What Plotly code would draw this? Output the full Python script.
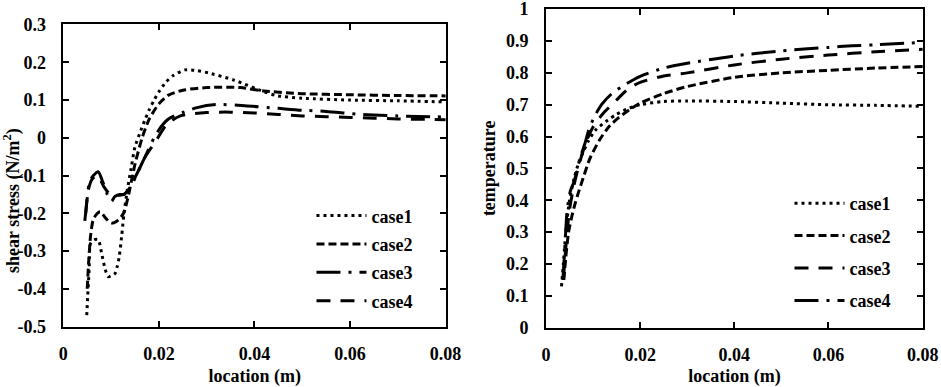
import plotly.graph_objects as go

# ---------------- data: left panel (shear stress) ----------------
series_names = ["case1", "case2", "case3", "case4"]

ss_x1 = [0.0049, 0.0051, 0.0054, 0.0057, 0.0065, 0.0073, 0.008, 0.0087, 0.0094, 0.0102, 0.0108, 0.0113,
         0.0117, 0.0122, 0.0127, 0.0134, 0.0142, 0.015, 0.016, 0.017, 0.018, 0.019, 0.02, 0.0215, 0.023,
         0.0255, 0.028, 0.031, 0.0357, 0.042, 0.0445, 0.05, 0.06, 0.07, 0.08]
ss_y1 = [-0.47, -0.42, -0.35, -0.28, -0.27, -0.27, -0.305, -0.345, -0.368, -0.365, -0.36, -0.34,
         -0.315, -0.262, -0.2, -0.138, -0.08, -0.024, 0.012, 0.045, 0.075, 0.1, 0.122, 0.148, 0.165,
         0.18, 0.178, 0.17, 0.153, 0.122, 0.112, 0.105, 0.1, 0.098, 0.095]

ss_x2 = [0.005, 0.0053, 0.0057, 0.0062, 0.0068, 0.0077, 0.009, 0.0101, 0.0115, 0.0126, 0.0135, 0.015,
         0.0165, 0.018, 0.02, 0.022, 0.025, 0.03, 0.037, 0.042, 0.05, 0.06, 0.07, 0.08]
ss_y2 = [-0.40, -0.33, -0.26, -0.22, -0.205, -0.196, -0.215, -0.226, -0.218, -0.2, -0.16, -0.07,
         0.0, 0.05, 0.09, 0.113, 0.126, 0.133, 0.133, 0.124, 0.117, 0.114, 0.112, 0.111]

ss_x3 = [0.0045, 0.005, 0.0055, 0.0063, 0.0073, 0.0082, 0.0092, 0.0101, 0.0108, 0.0118, 0.0127, 0.0135,
         0.0145, 0.016, 0.0175, 0.019, 0.0205, 0.022, 0.025, 0.028, 0.032, 0.038, 0.045, 0.05, 0.055,
         0.062, 0.07, 0.08]
ss_y3 = [-0.22, -0.16, -0.115, -0.1, -0.09, -0.115, -0.15, -0.168, -0.155, -0.15, -0.15, -0.14,
         -0.12, -0.08, -0.04, 0.0, 0.03, 0.05, 0.067, 0.08, 0.088, 0.085, 0.078, 0.073, 0.07,
         0.062, 0.058, 0.055]

ss_x4 = [0.0047, 0.0052, 0.006, 0.0072, 0.0085, 0.0098, 0.0108, 0.0118, 0.0127, 0.0135, 0.0146, 0.016,
         0.0174, 0.0195, 0.0216, 0.0245, 0.03, 0.035, 0.04, 0.045, 0.05, 0.055, 0.06, 0.065, 0.07,
         0.075, 0.08]
ss_y4 = [-0.2, -0.14, -0.11, -0.1, -0.13, -0.15, -0.152, -0.152, -0.15, -0.14, -0.115, -0.08,
         -0.045, -0.006, 0.035, 0.058, 0.067, 0.068, 0.066, 0.062, 0.058, 0.056, 0.054, 0.052, 0.05,
         0.049, 0.048]

# ---------------- data: right panel (temperature) ----------------
t_x1 = [0.0033, 0.0037, 0.0042, 0.005, 0.006, 0.007, 0.008, 0.009, 0.0105, 0.0128, 0.015, 0.0175,
        0.02, 0.025, 0.03, 0.04, 0.05, 0.06, 0.07, 0.08]
t_y1 = [0.13, 0.2, 0.3, 0.4, 0.47, 0.52, 0.555, 0.586, 0.62, 0.648, 0.67, 0.688,
        0.70, 0.71, 0.712, 0.71, 0.705, 0.70, 0.698, 0.695]

t_x2 = [0.0038, 0.0042, 0.0048, 0.0055, 0.0062, 0.0068, 0.0079, 0.0093, 0.0114, 0.0135, 0.0155, 0.0178,
        0.02, 0.025, 0.03, 0.04, 0.05, 0.06, 0.07, 0.08]
t_y2 = [0.15, 0.22, 0.3, 0.35, 0.39, 0.42, 0.47, 0.53, 0.59, 0.633, 0.66, 0.685,
        0.705, 0.735, 0.757, 0.786, 0.80, 0.808, 0.815, 0.82]

t_x3 = [0.0037, 0.0042, 0.005, 0.006, 0.007, 0.008, 0.009, 0.010, 0.012, 0.015, 0.0175, 0.02,
        0.025, 0.03, 0.04, 0.05, 0.06, 0.07, 0.08]
t_y3 = [0.15, 0.25, 0.37, 0.45, 0.51, 0.56, 0.6, 0.63, 0.67, 0.715, 0.75, 0.77,
        0.79, 0.80, 0.825, 0.843, 0.856, 0.866, 0.874]

t_x4 = [0.0036, 0.004, 0.0045, 0.0052, 0.006, 0.0072, 0.0082, 0.0093, 0.0105, 0.0118, 0.014, 0.017,
        0.02, 0.025, 0.03, 0.04, 0.05, 0.06, 0.065, 0.07, 0.08]
t_y4 = [0.15, 0.25, 0.37, 0.43, 0.46, 0.53, 0.575, 0.63, 0.668, 0.7, 0.735, 0.765,
        0.789, 0.815, 0.83, 0.853, 0.869, 0.88, 0.885, 0.888, 0.896]

# ---------------- tick labels ----------------
x_tickvals = [0, 0.02, 0.04, 0.06, 0.08]
x_ticktext = ["0", "0.02", "0.04", "0.06", "0.08"]
ss_tickvals = [-0.5, -0.4, -0.3, -0.2, -0.1, 0, 0.1, 0.2, 0.3]
ss_ticktext = ["-0.5", "-0.4", "-0.3", "-0.2", "-0.1", "0", "0.1", "0.2", "0.3"]
t_tickvals = [0, 0.1, 0.2, 0.3, 0.4, 0.5, 0.6, 0.7, 0.8, 0.9, 1.0]
t_ticktext = ["0", "0.1", "0.2", "0.3", "0.4", "0.5", "0.6", "0.7", "0.8", "0.9", "1"]

# ---------------- styles ----------------
FONT = "Liberation Serif"
DOT = "3px,4px"
SHORT = "8px,4px"
MED = "14px,10px"
DASHDOT = "24px,8px,3px,8px"

left_dash = [DOT, SHORT, DASHDOT, MED]
right_dash = [DOT, SHORT, MED, DASHDOT]

fig = go.Figure()

left_data = [(ss_x1, ss_y1), (ss_x2, ss_y2), (ss_x3, ss_y3), (ss_x4, ss_y4)]
right_data = [(t_x1, t_y1), (t_x2, t_y2), (t_x3, t_y3), (t_x4, t_y4)]

for i, (xs, ys) in enumerate(left_data):
    fig.add_trace(go.Scatter(
        x=xs, y=ys, mode="lines", name=series_names[i],
        line=dict(color="black", width=3, dash=left_dash[i], shape="spline", smoothing=0.7),
        xaxis="x", yaxis="y", legend="legend", legendgroup="L" + str(i)))

for i, (xs, ys) in enumerate(right_data):
    fig.add_trace(go.Scatter(
        x=xs, y=ys, mode="lines", name=series_names[i],
        line=dict(color="black", width=3, dash=right_dash[i], shape="spline", smoothing=0.7),
        xaxis="x2", yaxis="y2", legend="legend2", legendgroup="R" + str(i)))

tickfont = dict(family=FONT, size=18, color="black", weight="bold")
titlefont = dict(family=FONT, size=18, color="black", weight="bold")

axis_common = dict(
    showgrid=False, zeroline=False, showline=True, linecolor="black", linewidth=1.5,
    mirror="ticks", ticks="inside", ticklen=6, tickwidth=1.5, tickcolor="black",
    tickfont=tickfont, automargin=False, ticklabeloverflow="allow",
)

fig.update_layout(
    width=941, height=387,
    margin=dict(l=0, r=0, t=0, b=0),
    paper_bgcolor="white", plot_bgcolor="white",
    showlegend=True,
    xaxis=dict(domain=[0.0673, 0.474], range=[0, 0.0801], tickvals=x_tickvals, ticktext=x_ticktext,
               title=dict(text="location (m)", font=titlefont, standoff=6),
               ticklabelstandoff=10, anchor="y", **axis_common),
    yaxis=dict(domain=[0.1558, 0.937], range=[-0.5005, 0.3005], tickvals=ss_tickvals, ticktext=ss_ticktext,
               ticklabelstandoff=12, anchor="x", **axis_common),
    xaxis2=dict(domain=[0.5802, 0.981], range=[0, 0.0801], tickvals=x_tickvals, ticktext=x_ticktext,
                title=dict(text="location (m)", font=titlefont, standoff=6),
                ticklabelstandoff=10, anchor="y2", **axis_common),
    yaxis2=dict(domain=[0.1532, 0.977], range=[0, 1.0008], tickvals=t_tickvals, ticktext=t_ticktext,
                title=dict(text="temperature", font=titlefont, standoff=6),
                ticklabelstandoff=12, anchor="x2", **axis_common),
    annotations=[dict(text="shear stress (N/m<sup>2</sup>)", textangle=-90, x=0.0128, y=0.481,
                      xref="paper", yref="paper", xanchor="center", yanchor="middle",
                      showarrow=False, font=titlefont)],
    legend=dict(x=0.331, y=0.49, xanchor="left", yanchor="top", bgcolor="rgba(0,0,0,0)",
                font=dict(family=FONT, size=18, color="black", weight="bold"),
                itemwidth=50, tracegroupgap=2),
    legend2=dict(x=0.839, y=0.522, xanchor="left", yanchor="top", bgcolor="rgba(0,0,0,0)",
                 font=dict(family=FONT, size=18, color="black", weight="bold"),
                 itemwidth=50, tracegroupgap=6),
)

fig.write_html("out.html",
               config={"displayModeBar": False},
               post_script="document.body.style.margin='0';document.body.style.overflow='hidden';")
